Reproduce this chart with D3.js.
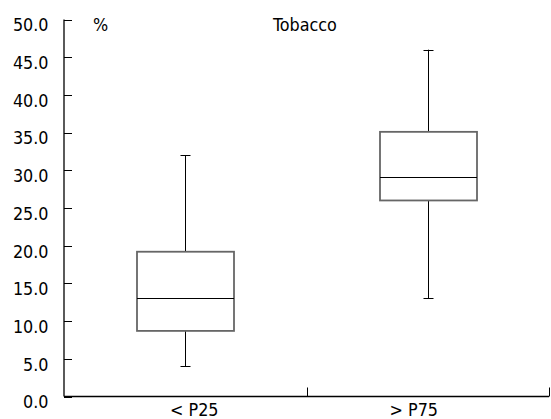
<!DOCTYPE html>
<html>
<head>
<meta charset="utf-8">
<script src="https://cdn.jsdelivr.net/npm/d3@7"></script>
<style>
  body { margin: 0; background: #fff; }
  text { font-family: "DejaVu Sans Condensed", "DejaVu Sans", sans-serif; font-stretch: condensed; font-size: 17.8px; fill: #000; }
</style>
</head>
<body>
<svg id="chart" width="551" height="419"></svg>
<script>
const categories = ["< P25", "> P75"];
const whiskerLow = [4.0, 13.0];
const q1 = [8.7, 26.0];
const medians = [13.0, 29.1];
const q3 = [19.2, 35.1];
const whiskerHigh = [32.0, 46.0];
const yTicks = [0, 5, 10, 15, 20, 25, 30, 35, 40, 45, 50];

const svg = d3.select("#chart");
const plotLeft = 64, plotRight = 549, plotTop = 19.5, plotBottom = 396.5;

const y = d3.scaleLinear().domain([0, 50]).range([plotBottom, plotTop]);
const x = d3.scaleBand().domain(categories).range([plotLeft, plotRight]).padding(0);

// y axis: line + inward ticks
svg.append("line")
    .attr("x1", plotLeft).attr("x2", plotLeft)
    .attr("y1", y(50)).attr("y2", plotBottom)
    .attr("stroke", "#000").attr("stroke-width", 1.3);

yTicks.forEach(t => {
    svg.append("line")
        .attr("x1", plotLeft).attr("x2", plotLeft + 8)
        .attr("y1", Math.round(y(t)) + 0.5).attr("y2", Math.round(y(t)) + 0.5)
        .attr("stroke", "#000");
    svg.append("text")
        .attr("x", 48.5)
        .attr("y", y(t) + 11.8)
        .attr("text-anchor", "end")
        .text(d3.format(".1f")(t));
});

// x axis
svg.append("line")
    .attr("x1", plotLeft).attr("x2", plotRight)
    .attr("y1", plotBottom).attr("y2", plotBottom)
    .attr("stroke", "#000").attr("stroke-width", 1.3);

categories.forEach(c => {
    const xe = x(c) + x.bandwidth();
    svg.append("line")
        .attr("x1", Math.round(xe) + 0.5).attr("x2", Math.round(xe) + 0.5)
        .attr("y1", plotBottom).attr("y2", plotBottom - 9)
        .attr("stroke", "#000");
});

const labelShift = [9, -14];
categories.forEach((c, i) => {
    svg.append("text")
        .attr("x", x(c) + x.bandwidth() / 2 + labelShift[i])
        .attr("y", 416)
        .attr("text-anchor", "middle")
        .text(c);
});

// titles
svg.append("text").attr("x", 93).attr("y", 31.3).text("%");
svg.append("text").attr("x", 273).attr("y", 31.3).text("Tobacco");

// boxes
const boxW = x.bandwidth() * 0.4;
const capW = 10;
categories.forEach((c, i) => {
    const cx = Math.round(x(c) + x.bandwidth() / 2) + 0.5;
    // whiskers
    svg.append("line")
        .attr("x1", cx).attr("x2", cx)
        .attr("y1", y(whiskerHigh[i])).attr("y2", y(q3[i]))
        .attr("stroke", "#000");
    svg.append("line")
        .attr("x1", cx).attr("x2", cx)
        .attr("y1", y(q1[i])).attr("y2", y(whiskerLow[i]))
        .attr("stroke", "#000");
    [whiskerHigh[i], whiskerLow[i]].forEach(v => {
        svg.append("line")
            .attr("x1", cx - capW / 2).attr("x2", cx + capW / 2)
            .attr("y1", Math.round(y(v)) + 0.5).attr("y2", Math.round(y(v)) + 0.5)
            .attr("stroke", "#000");
    });
    // box
    svg.append("rect")
        .attr("x", cx - boxW / 2)
        .attr("y", y(q3[i]))
        .attr("width", boxW)
        .attr("height", y(q1[i]) - y(q3[i]))
        .attr("fill", "none")
        .attr("stroke", "#666")
        .attr("stroke-width", 1.8);
    svg.append("line")
        .attr("x1", cx - boxW / 2).attr("x2", cx + boxW / 2)
        .attr("y1", Math.round(y(medians[i])) + 0.5).attr("y2", Math.round(y(medians[i])) + 0.5)
        .attr("stroke", "#000");
});
</script>
</body>
</html>
